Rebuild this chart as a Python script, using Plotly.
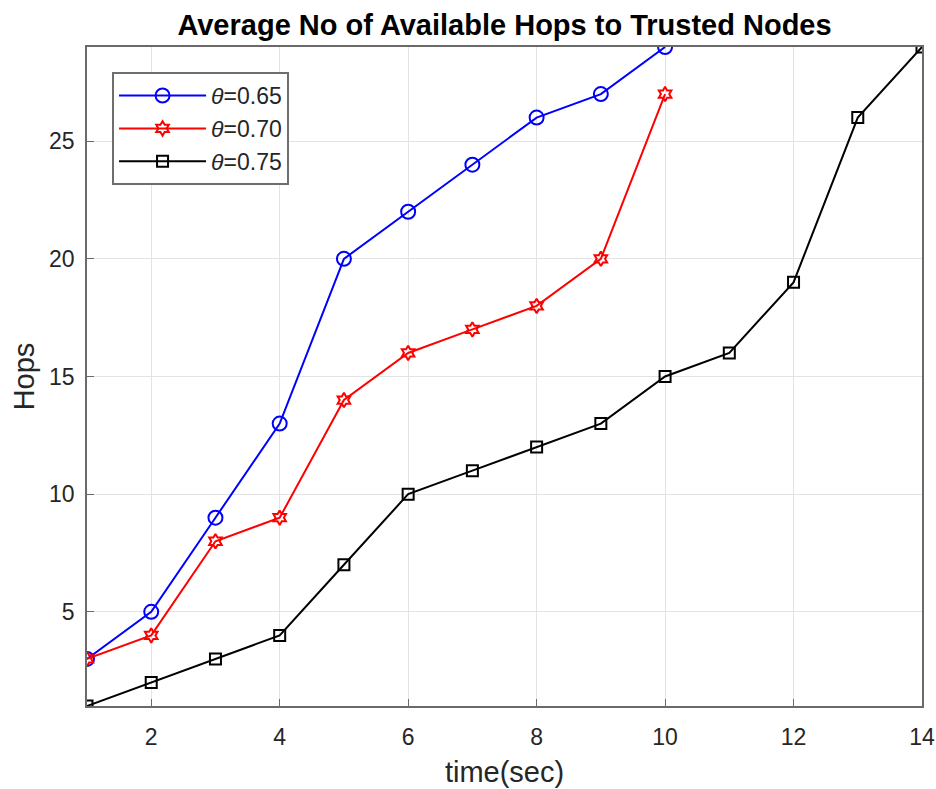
import plotly.graph_objects as go

time_a = [1, 2, 3, 4, 5, 6, 7, 8, 9, 10]
hops_065 = [3, 5, 9, 13, 20, 22, 24, 26, 27, 29]
hops_070 = [3, 4, 8, 9, 14, 16, 17, 18, 20, 27]
time_b = [1, 2, 3, 4, 5, 6, 7, 8, 9, 10, 11, 12, 13, 14]
hops_075 = [1, 2, 3, 4, 7, 10, 11, 12, 13, 15, 16, 19, 26, 29]

x_ticks = [2, 4, 6, 8, 10, 12, 14]
y_ticks = [5, 10, 15, 20, 25]

fig = go.Figure()
fig.add_trace(go.Scatter(x=time_a, y=hops_065, mode="lines+markers", name="<i>θ</i>=0.65",
                         line=dict(color="#0000ff", width=2),
                         marker=dict(symbol="circle-open", size=14, color="#0000ff", line=dict(width=2))))
fig.add_trace(go.Scatter(x=time_a, y=hops_070, mode="lines+markers", name="<i>θ</i>=0.70",
                         line=dict(color="#ff0000", width=2),
                         marker=dict(symbol="hexagram-open", size=11, color="#ff0000", line=dict(width=2))))
fig.add_trace(go.Scatter(x=time_b, y=hops_075, mode="lines+markers", name="<i>θ</i>=0.75",
                         line=dict(color="#000000", width=2),
                         marker=dict(symbol="square-open", size=11, color="#000000", line=dict(width=2))))

axis_common = dict(showgrid=True, gridcolor="#e3e3e3", gridwidth=1, showline=True, linecolor="#6a6a6a",
                   linewidth=1.5, mirror=True, ticks="inside", ticklen=7, tickcolor="#6a6a6a",
                   tickfont=dict(size=23, color="#262626"), zeroline=False, automargin=False)

fig.update_layout(
    width=936, height=789,
    paper_bgcolor="white", plot_bgcolor="white",
    font=dict(family="Liberation Sans, Arial, sans-serif", color="#262626"),
    margin=dict(l=87, r=14, t=47, b=83),
    title=dict(text="<b>Average No of Available Hops to Trusted Nodes</b>", xref="paper", x=0.5,
               xanchor="center", yref="container", y=1 - 25 / 789, yanchor="middle",
               font=dict(size=29, color="#000000")),
    xaxis=dict(range=[1, 14], tickvals=x_ticks, ticklabelstandoff=10,
               title=dict(text="time(sec)", font=dict(size=29), standoff=12),
               **axis_common),
    yaxis=dict(range=[1, 29], tickvals=y_ticks, ticklabelstandoff=6,
               title=dict(text="Hops", font=dict(size=29), standoff=6),
               **axis_common),
    legend=dict(x=0.03, y=0.962, xanchor="left", yanchor="top", bgcolor="white",
                bordercolor="#6e6e6e", borderwidth=2, font=dict(size=23, color="#262626"),
                tracegroupgap=0, itemwidth=87),
    showlegend=True,
)

fig.write_html("out.html", config={"displayModeBar": False},
               post_script="document.body.style.margin='0';document.body.style.overflow='hidden';")
